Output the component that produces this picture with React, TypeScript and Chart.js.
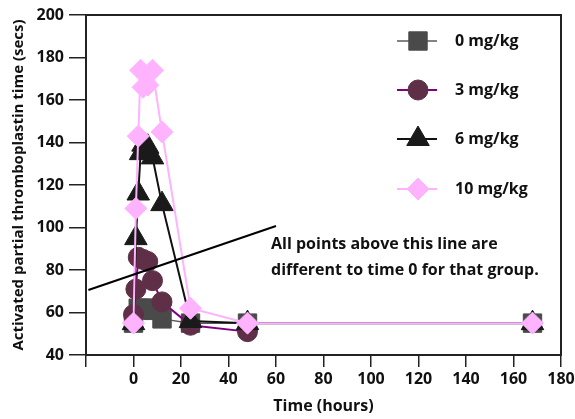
import React, { useEffect, useRef } from "react";
import { Chart, registerables } from "chart.js";
import { drawPoint } from "chart.js/helpers";

Chart.register(...registerables);

// ---- data ----
const xTicks = [-20, 0, 20, 40, 60, 80, 100, 120, 140, 160, 180];
const yTicks = [40, 60, 80, 100, 120, 140, 160, 180, 200];

const seriesNames = ["0 mg/kg", "3 mg/kg", "6 mg/kg", "10 mg/kg"];

const time0 = [0, 2, 4, 6, 8, 12, 24, 48, 168];
const aptt0 = [55, 62, 62, 62, 61, 57, 55, 55, 55];

const time3 = [0, 1, 2, 4, 6, 8, 12, 24, 48];
const aptt3 = [59, 71, 86, 85, 84, 75, 65, 54, 51];

const time6 = [0, 1, 2, 3, 4, 6, 8, 12, 24, 48, 168];
const aptt6 = [55, 95, 116, 135, 139, 138, 133, 111, 56, 55, 55];

const time10 = [0, 1, 2, 3, 4, 6, 8, 12, 24, 48, 168];
const aptt10 = [55, 109, 143, 174, 166, 167, 174, 145, 62, 55, 55];

const refLineX = [-19, 60];
const refLineY = [70.6, 100.7];

const noteLines = [
  "All points above this line are",
  "different to time 0 for that group.",
];

const FONT = "'Open Sans', 'DejaVu Sans', sans-serif";

const styles = [
  { point: "rect", radius: 13, fill: "#4a4a4a", line: "#5a5a5a", width: 1.5 },
  { point: "circle", radius: 10, fill: "#5e2f47", line: "#800080", width: 2 },
  { point: "triangle", radius: 13, fill: "#1a1a1a", line: "#111111", width: 2 },
  { point: "rectRot", radius: 11, fill: "#ffb3ff", line: "#ffb3ff", width: 2 },
];

const toPts = (xs: number[], ys: number[]) => xs.map((x, i) => ({ x, y: ys[i] }));

const overlayPlugin = {
  id: "overlay",
  afterDatasetsDraw(chart: any) {
    const ctx = chart.ctx;
    const a = chart.chartArea;
    ctx.save();
    // frame
    ctx.strokeStyle = "#222";
    ctx.lineWidth = 2;
    ctx.strokeRect(a.left, a.top, a.right - a.left, a.bottom - a.top);
    // legend
    const rows = [41, 90, 139, 189];
    styles.forEach((s, i) => {
      const y = rows[i];
      ctx.beginPath();
      ctx.strokeStyle = s.line;
      ctx.lineWidth = s.width;
      ctx.moveTo(397, y);
      ctx.lineTo(437, y);
      ctx.stroke();
      ctx.fillStyle = s.fill;
      ctx.strokeStyle = s.fill;
      ctx.lineWidth = 1;
      drawPoint(ctx, { pointStyle: s.point, radius: s.radius, borderWidth: 1, rotation: 0 } as any, 418, y);
      ctx.fillStyle = "#111";
      ctx.font = `bold 16px ${FONT}`;
      ctx.textAlign = "left";
      ctx.textBaseline = "middle";
      ctx.fillText(seriesNames[i], 455, y);
    });
    // note
    ctx.fillStyle = "#111";
    ctx.font = `bold 16px ${FONT}`;
    ctx.textAlign = "left";
    ctx.textBaseline = "alphabetic";
    ctx.fillText(noteLines[0], 271, 249);
    ctx.fillText(noteLines[1], 271, 275);
    ctx.restore();
  },
};

export default function App() {
  const ref = useRef<HTMLCanvasElement>(null);
  useEffect(() => {
    document.body.style.margin = "0";
    const data = [
      toPts(time0, aptt0),
      toPts(time3, aptt3),
      toPts(time6, aptt6),
      toPts(time10, aptt10),
    ];
    const datasets: any[] = data.map((d, i) => ({
      label: seriesNames[i],
      data: d,
      borderColor: styles[i].line,
      borderWidth: styles[i].width,
      backgroundColor: styles[i].fill,
      pointBackgroundColor: styles[i].fill,
      pointBorderColor: styles[i].fill,
      pointBorderWidth: 1,
      pointStyle: styles[i].point,
      pointRadius: styles[i].radius,
      tension: 0,
      fill: false,
      order: 4 - i,
    }));
    datasets.push({
      label: "ref",
      data: toPts(refLineX, refLineY),
      borderColor: "#000",
      borderWidth: 2,
      pointRadius: 0,
      fill: false,
      order: 0,
    });
    const chart = new Chart(ref.current!, {
      type: "line",
      data: { datasets },
      plugins: [overlayPlugin],
      options: {
        animation: false,
        responsive: false,
        devicePixelRatio: 1,
        layout: { padding: { top: 15, right: 13, left: 0, bottom: 0 } },
        plugins: { legend: { display: false }, tooltip: { enabled: false } },
        scales: {
          x: {
            type: "linear",
            min: -20,
            max: 180,
            afterBuildTicks: (s: any) => {
              s.ticks = xTicks.map((v) => ({ value: v }));
            },
            afterFit: (s: any) => {
              s.height = 64;
              s.paddingLeft = 0;
              s.paddingRight = 0;
            },
            ticks: {
              callback: (v: any) => (v === -20 ? "" : String(v)),
              color: "#111",
              font: { family: FONT, size: 16, weight: "bold" },
              padding: 3,
              maxRotation: 0,
              autoSkip: false,
            },
            grid: {
              drawOnChartArea: false,
              drawTicks: true,
              tickLength: 12,
              color: "#222",
              lineWidth: 1.5,
            },
            border: { display: true, color: "#222", width: 2 },
            title: {
              display: true,
              text: "Time (hours)",
              color: "#111",
              font: { family: FONT, size: 16, weight: "bold" },
              padding: { top: 0, bottom: 3 },
            },
          },
          y: {
            type: "linear",
            min: 40,
            max: 200,
            afterBuildTicks: (s: any) => {
              s.ticks = yTicks.map((v) => ({ value: v }));
            },
            afterFit: (s: any) => {
              s.width = 86;
              s.paddingTop = 0;
              s.paddingBottom = 0;
            },
            ticks: {
              color: "#111",
              font: { family: FONT, size: 16, weight: "bold" },
              padding: 5,
              autoSkip: false,
            },
            grid: {
              drawOnChartArea: false,
              drawTicks: true,
              tickLength: 17,
              color: "#222",
              lineWidth: 1.5,
            },
            border: { display: true, color: "#222", width: 2 },
            title: {
              display: true,
              text: "Activated partial thromboplastin time (secs)",
              color: "#111",
              font: { family: FONT, size: 15, weight: "bold" },
              padding: { top: 10, bottom: 0 },
            },
          },
        },
      },
    } as any);
    return () => chart.destroy();
  }, []);
  return <canvas ref={ref} width={575} height={419} style={{ display: "block" }} />;
}
